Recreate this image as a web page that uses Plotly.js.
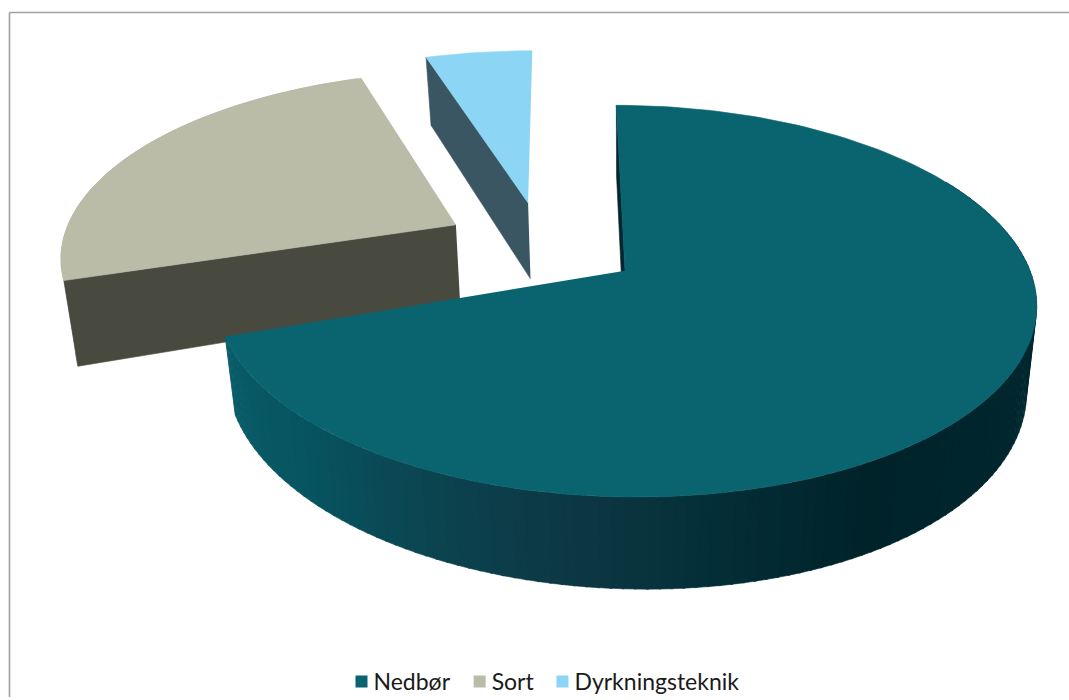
<!DOCTYPE html>
<html><head><meta charset="utf-8">
<script src="https://cdn.plot.ly/plotly-3.0.1.min.js"></script>
<style>html,body{margin:0;padding:0;background:#fff}</style></head>
<body><div id="chart" style="width:1069px;height:700px"></div>
<script>
const categories = ["Nedbør", "Sort", "Dyrkningsteknik"];
const values = [69.7, 25.3, 5];
const topColors = ["#0a6470", "#bbbca8", "#8cd5f5"];
const edgeColors = ["#02262e", "#484a40", "#3a5662"];
const rimColors = [null, "#a4a595", null];

// drawing order: the exploded slices first, the large slice over them
const drawOrder = [1, 2, 0];
// how far each slice is pulled out of the pie, on the ground plane
const pull = [[0, 0], [-0.4275, 0.25], [-0.244, 0.376]];
const tilt = [5, -4, 0];
const radius = [1, 0.995, 1.025];
const cutShift = [0, 1.5, 0];
const endShift = [0, -0.4, 0];

// projection of the tilted pie
const AX = 625, AY = 272, RX = 405, RY = 192, PERSP = 0.155, SHEAR = 10, DEPTH = 80, BASEX = 0.975, BASEY = 0.99;
function project(X, Y, bottom, tl) {
  const w = 1 / (1 + PERSP * Y);
  const kx = bottom ? BASEX : 1, ky = bottom ? BASEY : 1;
  return [AX + (RX * X - SHEAR * Y) * w * kx,
          AY - RY * Y * w * ky + (bottom ? (DEPTH + (tl || 0) * X) * w : 0)];
}
// shade of the large slice's wall by angle
const wallStops = [[60,[2,42,51]],[120,[1,38,46]],[150,[0,35,42]],[170,[4,46,55]],[185,[12,54,65]],[205,[11,68,80]],[225,[6,84,96]],[252,[10,93,106]]];
function wallColor(a) {
  for (let i = 1; i < wallStops.length; i++) {
    if (a <= wallStops[i][0]) {
      const [a0, c0] = wallStops[i - 1], [a1, c1] = wallStops[i];
      const t = Math.max(0, (a - a0) / (a1 - a0));
      return "rgb(" + c0.map((c, j) => Math.round(c + (c1[j] - c) * t)).join(",") + ")";
    }
  }
  return "rgb(10,93,106)";
}
const total = values.reduce((a, b) => a + b, 0);
const START = 0, STEP = 1.5;
let acc = START;
const angles = values.map((v, i) => { const e = acc + v / total * 360; const r = [acc + cutShift[i], e + endShift[i]]; acc = e; return r; });

function rimPoint(i, a, bottom) {
  const t = a * Math.PI / 180;
  return project(pull[i][0] + radius[i] * Math.sin(t), pull[i][1] + radius[i] * Math.cos(t), bottom, tilt[i]);
}
function apex(i, bottom) { return project(pull[i][0], pull[i][1], bottom, tilt[i]); }
function poly(points, color) {
  return {
    type: "scatter", mode: "lines", fill: "toself", fillcolor: color,
    x: points.map(p => p[0]), y: points.map(p => p[1]),
    line: { color: color, width: 0.6 }, showlegend: false, hoverinfo: "skip"
  };
}
const traces = [];
drawOrder.forEach(i => {
  const [a0, a1] = angles[i];
  // outer wall
  if (i === 0) {
    for (let a = Math.max(a0, 60); a < a1; a += STEP) {
      const b = Math.min(a + STEP + 0.3, a1);
      traces.push(poly([rimPoint(i, a, false), rimPoint(i, b, false), rimPoint(i, b, true), rimPoint(i, a, true)], wallColor(a)));
    }
  } else if (rimColors[i]) {
    const pts = [], low = [];
    for (let a = a0; a <= a1; a += STEP) { pts.push(rimPoint(i, a, false)); low.unshift(rimPoint(i, a, true)); }
    traces.push(poly(pts.concat(low), rimColors[i]));
  }
  // cut wall
  traces.push(poly([apex(i, false), rimPoint(i, a0, false), rimPoint(i, a0, true), apex(i, true)], edgeColors[i]));
  // top face
  const top = [apex(i, false)];
  for (let a = a0; a < a1; a += STEP) top.push(rimPoint(i, a, false));
  top.push(rimPoint(i, a1, false));
  traces.push(poly(top, topColors[i]));
});
categories.forEach((c, i) => traces.push({
  type: "scatter", mode: "markers", name: c, x: [null], y: [null],
  marker: { symbol: "square", size: 12, color: topColors[i] }, hoverinfo: "skip"
}));

const layout = {
  width: 1069, height: 700, margin: { l: 0, r: 0, t: 0, b: 0 },
  paper_bgcolor: "#fff", plot_bgcolor: "#fff",
  xaxis: { range: [0, 1069], visible: false, fixedrange: true },
  yaxis: { range: [700, 0], visible: false, fixedrange: true },
  font: { family: "Lato, 'Noto Sans', sans-serif", size: 23, color: "#1a1a1a" },
  legend: { orientation: "h", x: 0.5, xanchor: "center", y: 0.026, yanchor: "middle", itemwidth: 30, tracegroupgap: 0, bgcolor: "rgba(0,0,0,0)" },
  shapes: [
    { type: "line", xref: "paper", yref: "paper", x0: 9.5/1069, x1: 1, y0: 1-12.5/700, y1: 1-12.5/700, line: { color: "#a0a0a0", width: 1.6 } },
    { type: "line", xref: "paper", yref: "paper", x0: 9.5/1069, x1: 9.5/1069, y0: 0, y1: 1-12.5/700, line: { color: "#a0a0a0", width: 1.6 } }
  ]
};
const legendNudge = [9, 5, 0];
const translateRe = /translate\(([-\d.]+),\s*([-\d.]+)\)/;
Plotly.newPlot("chart", traces, layout, { displayModeBar: false, staticPlot: true }).then(() => {
  // the legend swatch sits close to its label in the original
  document.querySelectorAll(".legend .legendpoints path").forEach(p => {
    p.setAttribute("transform", "translate(28,0)");
  });
  document.querySelectorAll(".legend .traces").forEach((g, i) => {
    const m = translateRe.exec(g.getAttribute("transform"));
    if (m) g.setAttribute("transform", "translate(" + (parseFloat(m[1]) + legendNudge[i]) + "," + m[2] + ")");
  });
  const lg = document.querySelector(".legend");
  const m = translateRe.exec(lg.getAttribute("transform"));
  if (m) lg.setAttribute("transform", "translate(" + m[1] + "," + (parseFloat(m[2]) + 3) + ")");
});
</script></body></html>
